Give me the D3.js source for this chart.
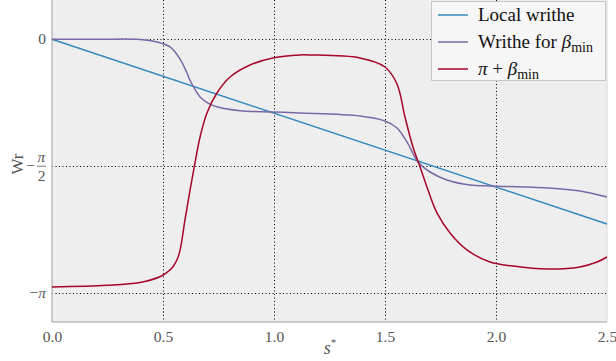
<!DOCTYPE html>
<html>
<head>
<meta charset="utf-8">
<script src="https://d3js.org/d3.v7.min.js"></script>
<style>
  body { margin: 0; background: #fff; }
  svg { display: block; }
  text { font-family: "Liberation Serif", "DejaVu Serif", serif; }
</style>
</head>
<body>
<svg id="chart" width="616" height="361"></svg>
<script>
// local writhe, a straight line
var localS = [0, 2.5];
var localWr = [0, -2.286];

// writhe for beta_min
var writheS = [0, 0.2, 0.396, 0.473, 0.532, 0.577, 0.608, 0.622, 0.644, 0.667, 0.703, 0.743, 0.847, 0.995, 1.117,
  1.387, 1.5, 1.554, 1.599, 1.649, 1.703, 1.779, 1.883, 1.973, 2.230, 2.378, 2.5];
var writheWr = [0, 0, -0.002, -0.033, -0.095, -0.245, -0.417, -0.510, -0.620, -0.715, -0.790, -0.836, -0.885, -0.900, -0.912,
  -0.949, -1.011, -1.098, -1.271, -1.519, -1.643, -1.742, -1.804, -1.816, -1.841, -1.878, -1.952];

// pi + beta_min
var betaS = [0, 0.248, 0.396, 0.486, 0.518, 0.545, 0.563, 0.577, 0.599, 0.622, 0.644, 0.667, 0.698, 0.743, 0.802,
  0.892, 0.995, 1.117, 1.162, 1.387, 1.5, 1.554, 1.59, 1.626, 1.658, 1.689, 1.734, 1.793, 1.869,
  1.973, 2.077, 2.230, 2.378, 2.455, 2.5];
var betaWr = [-3.066, -3.045, -3.010, -2.940, -2.885, -2.815, -2.730, -2.610, -2.237, -1.865, -1.531, -1.209, -0.912,
  -0.665, -0.467, -0.318, -0.231, -0.194, -0.194, -0.231, -0.343, -0.553, -0.962, -1.333, -1.581,
  -1.828, -2.150, -2.398, -2.608, -2.757, -2.807, -2.844, -2.819, -2.757, -2.695];

var xTicks = [0, 0.5, 1.0, 1.5, 2.0, 2.5];
var yTicks = [0, -Math.PI / 2, -Math.PI];

var svg = d3.select("#chart");
var pLeft = 52, pRight = 607, pTop = 0, pBottom = 322;

var x = d3.scaleLinear().domain([0, 2.5]).range([pLeft, pRight]);
var y = d3.scaleLinear().domain([-3.5, 0.4865]).range([pBottom, pTop]);

svg.append("rect")
  .attr("x", pLeft).attr("y", pTop)
  .attr("width", pRight - pLeft).attr("height", pBottom - pTop)
  .attr("fill", "#eeeeee");

// grid
svg.append("g").selectAll("line").data(xTicks.slice(1, 5)).join("line")
  .attr("x1", function (d) { return Math.round(x(d)) + 0.5; })
  .attr("x2", function (d) { return Math.round(x(d)) + 0.5; })
  .attr("y1", pTop).attr("y2", pBottom)
  .attr("stroke", "#000").attr("stroke-width", 1).attr("stroke-dasharray", "1,2.5");
svg.append("g").selectAll("line").data(yTicks).join("line")
  .attr("y1", function (d) { return Math.round(y(d)) + 0.5; })
  .attr("y2", function (d) { return Math.round(y(d)) + 0.5; })
  .attr("x1", pLeft).attr("x2", pRight)
  .attr("stroke", "#000").attr("stroke-width", 1).attr("stroke-dasharray", "1,2.5");

// spines
svg.append("line").attr("x1", pLeft).attr("x2", pLeft).attr("y1", pTop).attr("y2", pBottom)
  .attr("stroke", "#bcbcbc").attr("stroke-width", 1.5);
svg.append("line").attr("x1", pLeft).attr("x2", pRight).attr("y1", pBottom).attr("y2", pBottom)
  .attr("stroke", "#bcbcbc").attr("stroke-width", 1.5);
svg.append("line").attr("x1", pRight).attr("x2", pRight).attr("y1", pTop).attr("y2", pBottom)
  .attr("stroke", "#d8d8d8").attr("stroke-width", 1);

// x tick labels
var xAxis = d3.axisBottom(x).tickValues(xTicks).tickSize(0).tickPadding(9)
  .tickFormat(d3.format(".1f"));
var gx = svg.append("g").attr("transform", "translate(0," + pBottom + ")").call(xAxis);
gx.select(".domain").remove();
gx.selectAll("text").attr("fill", "#555").attr("font-size", 15.5)
  .attr("font-family", "Liberation Serif, serif");

// y tick labels
var gy = svg.append("g").attr("fill", "#555").attr("font-size", 15.5);
gy.append("text").attr("x", 46).attr("y", y(0) + 5).attr("text-anchor", "end").text("0");
var yh = y(-Math.PI / 2);
gy.append("text").attr("x", 35).attr("y", yh + 5).attr("text-anchor", "end").text("\u2212");
gy.append("text").attr("x", 41.5).attr("y", yh - 4).attr("text-anchor", "middle")
  .attr("font-style", "italic").text("\u03c0");
gy.append("line").attr("x1", 37).attr("x2", 46).attr("y1", yh).attr("y2", yh)
  .attr("stroke", "#555").attr("stroke-width", 0.8);
gy.append("text").attr("x", 41.5).attr("y", yh + 15).attr("text-anchor", "middle").text("2");
var yp = svg.append("text").attr("x", 46).attr("y", y(-Math.PI) + 5).attr("text-anchor", "end")
  .attr("fill", "#555").attr("font-size", 15.5);
yp.append("tspan").text("\u2212");
yp.append("tspan").attr("font-style", "italic").text("\u03c0");

// axis labels
svg.append("text").attr("transform", "translate(23,164) rotate(-90)")
  .attr("text-anchor", "middle").attr("fill", "#555").attr("font-size", 17).text("Wr");
var xl = svg.append("text").attr("x", 330).attr("y", 354).attr("text-anchor", "middle")
  .attr("fill", "#555").attr("font-size", 18);
xl.append("tspan").attr("font-style", "italic").text("s");
xl.append("tspan").attr("dy", -8).attr("font-size", 11).text("*");

// curves
var line = d3.line().x(function (d) { return x(d[0]); }).y(function (d) { return y(d[1]); })
  .curve(d3.curveCatmullRom.alpha(0.5));
var series = [
  { s: localS, v: localWr, color: "#348ABD" },
  { s: writheS, v: writheWr, color: "#7A68A6" },
  { s: betaS, v: betaWr, color: "#A60628" }
];
series.forEach(function (sr) {
  svg.append("path")
    .datum(d3.zip(sr.s, sr.v))
    .attr("d", line)
    .attr("fill", "none")
    .attr("stroke", sr.color)
    .attr("stroke-width", 1.5);
});

// legend
var lg = svg.append("g");
lg.append("rect").attr("x", 431.5).attr("y", 1.5).attr("width", 174).attr("height", 79)
  .attr("fill", "#f6f6f6").attr("stroke", "#c8c8c8");
var labels = [
  [{ t: "Local writhe" }],
  [{ t: "Writhe for " }, { t: "\u03b2", i: true }, { t: "min", sub: true }],
  [{ t: "\u03c0", i: true }, { t: " + " }, { t: "\u03b2", i: true }, { t: "min", sub: true }]
];
labels.forEach(function (parts, k) {
  var yy = 15 + k * 27;
  lg.append("line").attr("x1", 438).attr("x2", 468).attr("y1", yy).attr("y2", yy)
    .attr("stroke", series[k].color).attr("stroke-width", 1.5);
  var t = lg.append("text").attr("x", 478).attr("y", yy + 6).attr("fill", "#111").attr("font-size", 19);
  var shifted = false;
  parts.forEach(function (p) {
    var ts = t.append("tspan").text(p.t);
    if (p.i) ts.attr("font-style", "italic");
    if (p.sub) { ts.attr("dy", 4).attr("font-size", 14); shifted = true; }
    else if (shifted) { ts.attr("dy", -4); shifted = false; }
  });
});
</script>
</body>
</html>
